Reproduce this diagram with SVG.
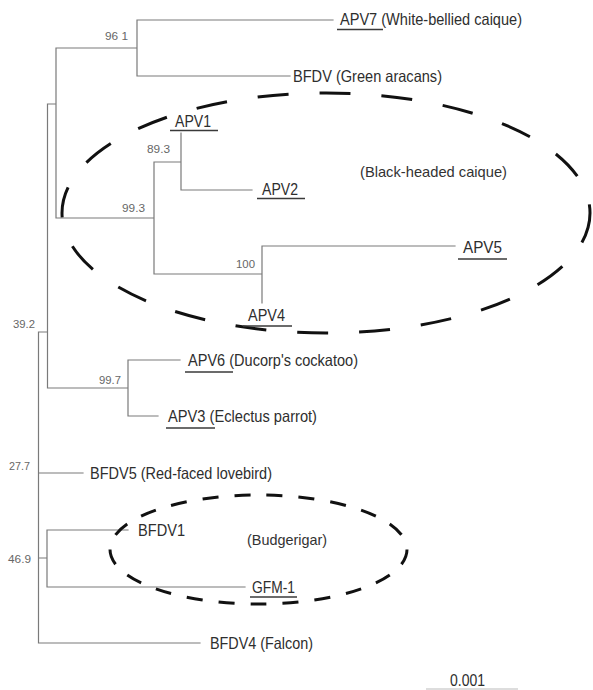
<svg xmlns="http://www.w3.org/2000/svg" width="593" height="690" viewBox="0 0 593 690">
<style>
.br{stroke:#7a7a7a;stroke-width:1.2;fill:none;stroke-linecap:square}
.ul{stroke:#3a3a3a;stroke-width:1.5}
.lb{font-family:"Liberation Sans",Arial,sans-serif;font-size:16.5px;fill:#2e2e2e}
.gp{font-family:"Liberation Sans",Arial,sans-serif;font-size:14.5px;fill:#333}
.bs{font-family:"Liberation Sans",Arial,sans-serif;font-size:11.5px;fill:#666}
.el{fill:none;stroke:#111;stroke-width:3}
</style>
<rect width="593" height="690" fill="#fff"/>
<g id="connectors">
<path class="br" d="M38.5 332V643M38.5 332H47.5M47.5 104V388M47.5 104H56M56 48V218M56 48H137M137 20V76M137 20H333M137 76H290M56 218H154M154 162V274M154 162H181M181 133V190M181 190H252M154 274H262M262 246V303M262 246H455M47.5 388H128M128 360V416M128 360H180M128 416H158M38.5 473H83M38.5 558H47M47 530V587M47 530H128M47 587H245M38.5 643H200"/>
</g>
<g id="groups">
<ellipse id="black-headed" class="el" cx="326" cy="213" rx="264" ry="120" stroke-dasharray="31 31"/>
<ellipse id="budgerigar" class="el" cx="258.5" cy="549.5" rx="148.5" ry="54.5" stroke-width="2.6" stroke-dasharray="16 16"/>
</g>
<g id="support">
<text class="bs" x="105" y="40" textLength="23" lengthAdjust="spacingAndGlyphs">96 1</text>
<text class="bs" x="147" y="153" textLength="23" lengthAdjust="spacingAndGlyphs">89.3</text>
<text class="bs" x="122" y="212" textLength="23" lengthAdjust="spacingAndGlyphs">99.3</text>
<text class="bs" x="236" y="268" textLength="19" lengthAdjust="spacingAndGlyphs">100</text>
<text class="bs" x="13" y="328" textLength="22" lengthAdjust="spacingAndGlyphs">39.2</text>
<text class="bs" x="99" y="384" textLength="22" lengthAdjust="spacingAndGlyphs">99.7</text>
<text class="bs" x="9" y="470" textLength="21" lengthAdjust="spacingAndGlyphs">27.7</text>
<text class="bs" x="8" y="563" textLength="23" lengthAdjust="spacingAndGlyphs">46.9</text>
</g>
<g id="n-apv7"><text class="lb" x="340" y="25" textLength="182" lengthAdjust="spacingAndGlyphs">APV7 (White-bellied caique)</text><line class="ul" x1="337" y1="29.5" x2="383" y2="29.5"/></g>
<g id="n-bfdv"><text class="lb" x="293" y="82" textLength="149" lengthAdjust="spacingAndGlyphs">BFDV (Green aracans)</text></g>
<g id="n-apv1"><text class="lb" x="175" y="127" textLength="36" lengthAdjust="spacingAndGlyphs">APV1</text><line class="ul" x1="170" y1="130.5" x2="218" y2="130.5"/></g>
<g id="n-apv2"><text class="lb" x="262" y="195" textLength="36" lengthAdjust="spacingAndGlyphs">APV2</text><line class="ul" x1="257" y1="198.5" x2="305" y2="198.5"/></g>
<g id="n-apv5"><text class="lb" x="463" y="253" textLength="39" lengthAdjust="spacingAndGlyphs">APV5</text><line class="ul" x1="458" y1="259" x2="507" y2="259"/></g>
<g id="n-apv4"><text class="lb" x="248" y="321" textLength="37" lengthAdjust="spacingAndGlyphs">APV4</text><line class="ul" x1="243" y1="326" x2="292" y2="326"/></g>
<g id="n-black"><text class="gp" x="360" y="177" textLength="147" lengthAdjust="spacingAndGlyphs">(Black-headed caique)</text></g>
<g id="n-apv6"><text class="lb" x="188" y="366" textLength="170" lengthAdjust="spacingAndGlyphs">APV6 (Ducorp's cockatoo)</text><line class="ul" x1="185" y1="372" x2="233" y2="372"/></g>
<g id="n-apv3"><text class="lb" x="168" y="422" textLength="149" lengthAdjust="spacingAndGlyphs">APV3 (Eclectus parrot)</text><line class="ul" x1="166" y1="428" x2="215" y2="428"/></g>
<g id="n-bfdv5"><text class="lb" x="90" y="479" textLength="182" lengthAdjust="spacingAndGlyphs">BFDV5 (Red-faced lovebird)</text></g>
<g id="n-bfdv1"><text class="lb" x="138" y="536" textLength="47" lengthAdjust="spacingAndGlyphs">BFDV1</text></g>
<g id="n-budg"><text class="gp" x="247" y="545" textLength="80" lengthAdjust="spacingAndGlyphs">(Budgerigar)</text></g>
<g id="n-gfm1"><text class="lb" x="252" y="593" textLength="43" lengthAdjust="spacingAndGlyphs">GFM-1</text><line class="ul" x1="250" y1="597" x2="297" y2="597"/></g>
<g id="n-bfdv4"><text class="lb" x="210" y="649" textLength="103" lengthAdjust="spacingAndGlyphs">BFDV4 (Falcon)</text></g>
<g id="scale"><text class="lb" x="450" y="686" textLength="35" lengthAdjust="spacingAndGlyphs">0.001</text><line x1="426" y1="689" x2="518" y2="689" stroke="#bbb" stroke-width="1.2"/></g>
</svg>
